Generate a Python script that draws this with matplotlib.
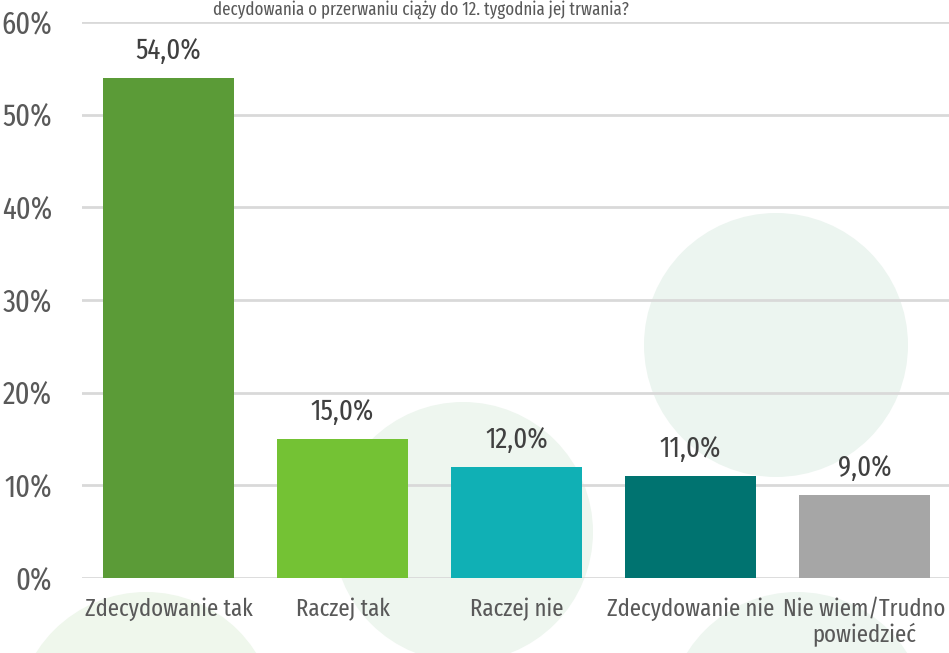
import matplotlib
matplotlib.use("Agg")
import matplotlib.pyplot as plt
from matplotlib.patches import Circle
from matplotlib import font_manager

categories = ["Zdecydowanie tak", "Raczej tak", "Raczej nie", "Zdecydowanie nie", "Nie wiem/Trudno\npowiedzieć"]
values = [54.0, 15.0, 12.0, 11.0, 9.0]
colors = ["#5B9B37", "#74C234", "#10B0B5", "#007370", "#A6A6A6"]
yticks = [0, 10, 20, 30, 40, 50, 60]
ytick_labels = ["0%", "10%", "20%", "30%", "40%", "50%", "60%"]
title_line = "decydowania o przerwaniu ciąży do 12. tygodnia jej trwania?"

names = {f.name for f in font_manager.fontManager.ttflist}
candidates = ["Fira Sans Extra Condensed", "Fira Sans Condensed", "Roboto Condensed",
              "PT Sans Narrow", "Encode Sans Condensed", "Liberation Sans Narrow",
              "Ubuntu Condensed", "Open Sans Condensed"]
fam = next((c for c in candidates if c in names), "DejaVu Sans")
plt.rcParams["font.family"] = [fam, "DejaVu Sans"]

W, H = 949, 653
fig = plt.figure(figsize=(W / 100, H / 100), dpi=100)
renderer = fig.canvas.get_renderer()


def fit_size(s, target_px, ref=20):
    t = fig.text(0, 0, s, fontsize=ref)
    w = t.get_window_extent(renderer).width
    t.remove()
    return ref * target_px / w


tick_fs = fit_size("60%", 51)
val_fs = fit_size("54,0%", 66)
xl_fs = fit_size("Zdecydowanie tak", 168)
title_fs = xl_fs * 0.74

# decorative background circles (pixel coordinate axes)
bg = fig.add_axes([0, 0, 1, 1], zorder=0)
bg.set_xlim(0, W)
bg.set_ylim(H, 0)
bg.axis("off")
for (cx, cy, r, c) in [(776, 345, 132, "#ECF5F0"), (463, 532, 130, "#EEF6EF"),
                       (146, 722, 130, "#EFF7EC"), (797, 722, 130, "#EEF6F0")]:
    bg.add_patch(Circle((cx, cy), r, facecolor=c, edgecolor="none"))

left = 81.5 / W
right = 951.5 / W
bottom = (H - 578) / H
top = (H - 22) / H
ax = fig.add_axes([left, bottom, right - left, top - bottom], zorder=1)
ax.patch.set_alpha(0)

x = list(range(len(categories)))
ax.bar(x, values, width=0.753, color=colors, zorder=3)
ax.set_xlim(-0.5, len(categories) - 0.5)
ax.set_ylim(0, 60)
ax.set_yticks(yticks)
ax.set_yticklabels(ytick_labels)
ax.set_xticks(x)
ax.set_xticklabels(categories, linespacing=1.12)
ax.yaxis.grid(True, color="#D9D9D9", linewidth=2, zorder=1)
ax.set_axisbelow(True)
for s in ax.spines.values():
    s.set_visible(False)
ax.tick_params(axis="y", length=0, pad=21, labelsize=tick_fs, labelcolor="#595959")
ax.tick_params(axis="x", length=0, pad=14, labelsize=xl_fs, labelcolor="#595959")

for xi, v in zip(x, values):
    ax.annotate(f"{v:.1f}".replace(".", ",") + "%", (xi, v), xytext=(0, 13.5),
                textcoords="offset points", ha="center", va="baseline",
                fontsize=val_fs, color="#404040")

fig.text(421 / W, 1 - 0.5 / H, title_line, ha="center", va="top",
         fontsize=title_fs, color="#595959")

fig.savefig("out.png", dpi=100)
